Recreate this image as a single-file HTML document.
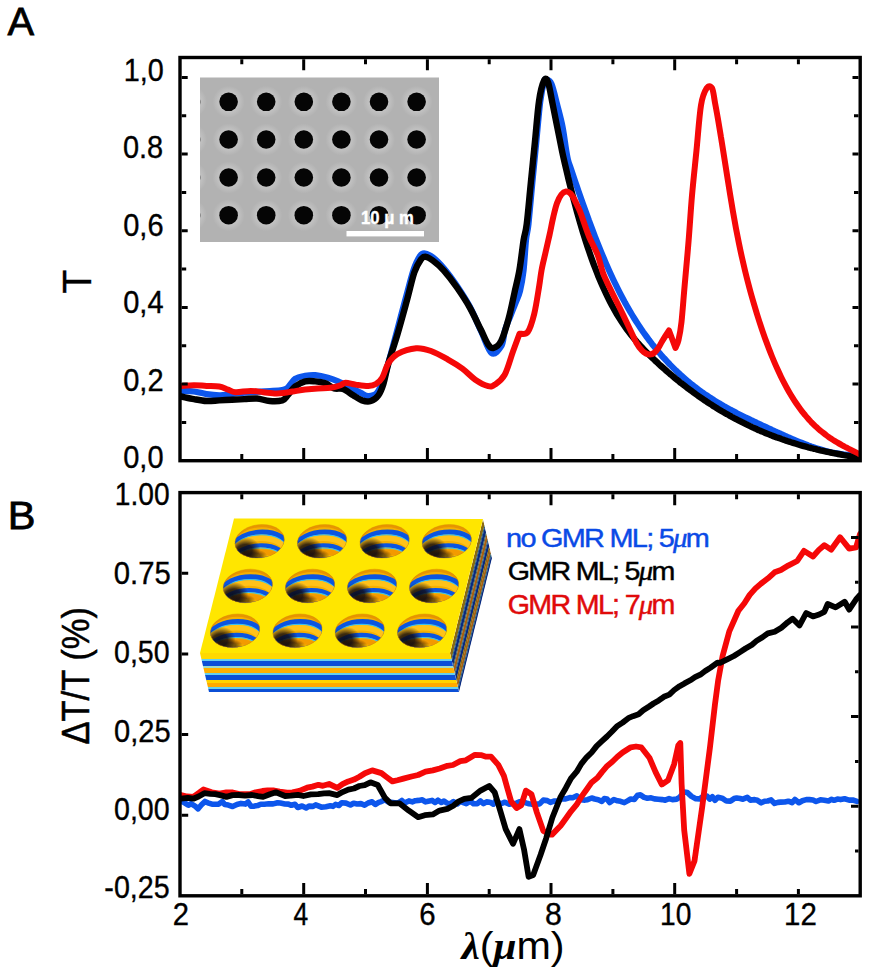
<!DOCTYPE html><html><head><meta charset="utf-8"><style>html,body{margin:0;padding:0;background:#fff;width:872px;height:974px;overflow:hidden}svg{display:block}text{font-family:"Liberation Sans",sans-serif}</style></head><body>
<svg width="872" height="974" viewBox="0 0 872 974">
<rect width="872" height="974" fill="#fff"/>
<defs>
<clipPath id="clipA"><rect x="180.0" y="57.5" width="680.2" height="403.2"/></clipPath>
<clipPath id="clipB"><rect x="180.0" y="492.6" width="680.2" height="403.2"/></clipPath>
</defs>
<g>
<defs><radialGradient id="halo" cx="0.5" cy="0.5" r="0.5"><stop offset="0.5" stop-color="#c6c6c6" stop-opacity="1"/><stop offset="1" stop-color="#c6c6c6" stop-opacity="0"/></radialGradient></defs>
<rect x="200" y="77.5" width="239" height="164.5" fill="#b2b2b2"/>
<clipPath id="semclip"><rect x="200" y="77.5" width="239" height="164.5"/></clipPath><g clip-path="url(#semclip)">
<circle cx="191.0" cy="101.8" r="16" fill="url(#halo)"/>
<circle cx="228.6" cy="101.8" r="16" fill="url(#halo)"/>
<circle cx="266.2" cy="101.8" r="16" fill="url(#halo)"/>
<circle cx="303.8" cy="101.8" r="16" fill="url(#halo)"/>
<circle cx="341.4" cy="101.8" r="16" fill="url(#halo)"/>
<circle cx="379.0" cy="101.8" r="16" fill="url(#halo)"/>
<circle cx="416.6" cy="101.8" r="16" fill="url(#halo)"/>
<circle cx="191.0" cy="139.5" r="16" fill="url(#halo)"/>
<circle cx="228.6" cy="139.5" r="16" fill="url(#halo)"/>
<circle cx="266.2" cy="139.5" r="16" fill="url(#halo)"/>
<circle cx="303.8" cy="139.5" r="16" fill="url(#halo)"/>
<circle cx="341.4" cy="139.5" r="16" fill="url(#halo)"/>
<circle cx="379.0" cy="139.5" r="16" fill="url(#halo)"/>
<circle cx="416.6" cy="139.5" r="16" fill="url(#halo)"/>
<circle cx="191.0" cy="177.5" r="16" fill="url(#halo)"/>
<circle cx="228.6" cy="177.5" r="16" fill="url(#halo)"/>
<circle cx="266.2" cy="177.5" r="16" fill="url(#halo)"/>
<circle cx="303.8" cy="177.5" r="16" fill="url(#halo)"/>
<circle cx="341.4" cy="177.5" r="16" fill="url(#halo)"/>
<circle cx="379.0" cy="177.5" r="16" fill="url(#halo)"/>
<circle cx="416.6" cy="177.5" r="16" fill="url(#halo)"/>
<circle cx="191.0" cy="215.2" r="16" fill="url(#halo)"/>
<circle cx="228.6" cy="215.2" r="16" fill="url(#halo)"/>
<circle cx="266.2" cy="215.2" r="16" fill="url(#halo)"/>
<circle cx="303.8" cy="215.2" r="16" fill="url(#halo)"/>
<circle cx="341.4" cy="215.2" r="16" fill="url(#halo)"/>
<circle cx="379.0" cy="215.2" r="16" fill="url(#halo)"/>
<circle cx="416.6" cy="215.2" r="16" fill="url(#halo)"/>
<circle cx="191.0" cy="101.8" r="9.3" fill="#050505"/>
<circle cx="228.6" cy="101.8" r="9.3" fill="#050505"/>
<circle cx="266.2" cy="101.8" r="9.3" fill="#050505"/>
<circle cx="303.8" cy="101.8" r="9.3" fill="#050505"/>
<circle cx="341.4" cy="101.8" r="9.3" fill="#050505"/>
<circle cx="379.0" cy="101.8" r="9.3" fill="#050505"/>
<circle cx="416.6" cy="101.8" r="9.3" fill="#050505"/>
<circle cx="191.0" cy="139.5" r="9.3" fill="#050505"/>
<circle cx="228.6" cy="139.5" r="9.3" fill="#050505"/>
<circle cx="266.2" cy="139.5" r="9.3" fill="#050505"/>
<circle cx="303.8" cy="139.5" r="9.3" fill="#050505"/>
<circle cx="341.4" cy="139.5" r="9.3" fill="#050505"/>
<circle cx="379.0" cy="139.5" r="9.3" fill="#050505"/>
<circle cx="416.6" cy="139.5" r="9.3" fill="#050505"/>
<circle cx="191.0" cy="177.5" r="9.3" fill="#050505"/>
<circle cx="228.6" cy="177.5" r="9.3" fill="#050505"/>
<circle cx="266.2" cy="177.5" r="9.3" fill="#050505"/>
<circle cx="303.8" cy="177.5" r="9.3" fill="#050505"/>
<circle cx="341.4" cy="177.5" r="9.3" fill="#050505"/>
<circle cx="379.0" cy="177.5" r="9.3" fill="#050505"/>
<circle cx="416.6" cy="177.5" r="9.3" fill="#050505"/>
<circle cx="191.0" cy="215.2" r="9.3" fill="#050505"/>
<circle cx="228.6" cy="215.2" r="9.3" fill="#050505"/>
<circle cx="266.2" cy="215.2" r="9.3" fill="#050505"/>
<circle cx="303.8" cy="215.2" r="9.3" fill="#050505"/>
<circle cx="341.4" cy="215.2" r="9.3" fill="#050505"/>
<circle cx="379.0" cy="215.2" r="9.3" fill="#050505"/>
<circle cx="416.6" cy="215.2" r="9.3" fill="#050505"/>
</g>
<rect x="346.5" y="231" width="77.5" height="5.4" fill="#fff"/>
</g>
<g clip-path="url(#clipA)" fill="none" stroke-linejoin="round" stroke-linecap="round">
<path d="M181.0,390.9 C183.2,391.0 189.7,391.0 193.9,391.5 C198.2,392.0 202.3,393.5 206.5,394.1 C210.7,394.7 215.6,395.2 219.2,395.3 C222.8,395.4 224.5,395.1 228.0,394.7 C231.5,394.3 235.5,393.4 240.0,393.0 C244.5,392.6 250.0,392.3 255.0,392.0 C260.0,391.7 265.5,391.3 270.0,391.0 C274.5,390.7 279.1,390.5 282.0,390.0 C284.9,389.5 285.4,389.7 287.6,387.8 C289.8,385.9 292.2,380.9 295.1,378.9 C298.0,376.9 301.8,376.4 305.2,375.8 C308.6,375.2 311.5,374.8 315.3,375.1 C319.1,375.4 324.1,376.6 327.9,377.7 C331.7,378.8 334.2,379.7 338.0,381.4 C341.8,383.1 346.8,385.9 350.6,387.8 C354.4,389.7 357.8,391.4 360.7,392.8 C363.6,394.2 365.6,396.0 368.3,396.0 C371.0,396.0 374.4,396.1 377.1,392.8 C379.8,389.5 382.8,381.4 384.7,376.4 C386.6,371.3 386.4,370.1 388.5,362.5 C390.6,354.9 394.1,341.9 397.0,331.0 C399.9,320.1 403.2,307.2 406.0,297.0 C408.8,286.8 411.2,276.8 413.5,270.0 C415.8,263.2 418.1,258.8 420.0,256.0 C421.9,253.2 422.8,253.2 425.0,253.5 C427.2,253.8 429.8,255.0 433.0,257.5 C436.2,260.0 440.0,263.8 444.0,268.5 C448.0,273.2 452.7,279.6 457.0,286.0 C461.3,292.4 466.0,299.5 470.0,307.0 C474.0,314.5 477.4,323.3 481.0,331.0 C484.6,338.7 488.1,350.5 491.5,353.0 C494.9,355.5 499.1,349.8 501.4,346.0 C503.6,342.2 503.6,334.8 505.0,330.0 C506.4,325.2 508.2,321.5 510.0,317.0 C511.8,312.5 513.8,307.3 515.5,303.0 C517.2,298.7 518.7,296.3 520.0,291.0 C521.3,285.7 522.5,279.5 523.5,271.0 C524.5,262.5 525.2,247.8 526.0,240.0 C526.8,232.2 527.5,233.5 528.5,224.0 C529.5,214.5 531.0,196.7 532.3,183.0 C533.6,169.3 535.0,155.7 536.3,142.0 C537.6,128.3 539.0,111.0 540.3,101.0 C541.6,91.0 543.0,85.6 544.0,82.0 C545.0,78.4 545.0,79.2 546.2,79.5 C547.5,79.8 549.7,79.9 551.5,84.0 C553.3,88.1 555.2,96.9 557.0,104.0 C558.8,111.1 561.0,119.0 562.5,126.5 C564.0,134.0 565.1,143.5 566.0,149.1 C566.9,154.7 567.2,156.6 568.0,159.9 C568.8,163.3 570.0,166.0 571.0,169.0 C572.0,172.0 573.0,175.0 574.0,178.0 C575.0,180.9 576.0,183.9 577.0,186.8 C578.0,189.7 579.0,192.6 580.0,195.5 C581.0,198.3 582.0,201.2 583.0,204.0 C584.0,206.8 585.0,209.6 586.0,212.4 C587.0,215.2 588.0,217.9 589.0,220.6 C590.0,223.3 591.0,226.0 592.0,228.6 C593.0,231.3 594.0,233.9 595.0,236.5 C596.0,239.1 597.0,241.6 598.0,244.1 C599.0,246.6 600.0,249.1 601.0,251.6 C602.0,254.0 603.0,256.4 604.0,258.8 C605.0,261.1 606.0,263.5 607.0,265.7 C608.0,268.0 609.0,270.3 610.0,272.5 C611.0,274.7 612.0,276.8 613.0,279.0 C614.0,281.1 615.0,283.2 616.0,285.2 C617.0,287.3 618.0,289.3 619.0,291.2 C620.0,293.2 621.0,295.1 622.0,297.0 C623.0,298.9 624.0,300.7 625.0,302.6 C626.0,304.4 627.0,306.1 628.0,307.9 C629.0,309.6 630.0,311.4 631.0,313.0 C632.0,314.7 633.0,316.4 634.0,318.0 C635.0,319.6 636.0,321.2 637.0,322.7 C638.0,324.3 639.0,325.8 640.0,327.3 C641.0,328.8 642.0,330.2 643.0,331.7 C644.0,333.1 645.0,334.5 646.0,335.9 C647.0,337.3 648.0,338.6 649.0,340.0 C650.0,341.3 651.0,342.6 652.0,343.9 C653.0,345.1 654.0,346.4 655.0,347.6 C656.0,348.9 657.0,350.1 658.0,351.3 C659.0,352.5 660.0,353.6 661.0,354.8 C662.0,355.9 663.0,357.0 664.0,358.2 C665.0,359.3 666.0,360.4 667.0,361.4 C668.0,362.5 669.0,363.5 670.0,364.6 C671.0,365.6 672.0,366.6 673.0,367.6 C674.0,368.6 675.0,369.6 676.0,370.6 C677.0,371.5 678.0,372.5 679.0,373.4 C680.0,374.3 681.0,375.2 682.0,376.1 C683.0,377.0 684.0,377.9 685.0,378.8 C686.0,379.7 687.0,380.5 688.0,381.3 C689.0,382.2 690.0,383.0 691.0,383.8 C692.0,384.6 693.0,385.4 694.0,386.2 C695.0,387.0 696.0,387.7 697.0,388.5 C698.0,389.3 699.0,390.0 700.0,390.7 C701.0,391.5 702.0,392.2 703.0,392.9 C704.0,393.6 705.0,394.3 706.0,395.0 C707.0,395.6 708.0,396.3 709.0,397.0 C710.0,397.6 711.0,398.3 712.0,398.9 C713.0,399.6 714.0,400.2 715.0,400.8 C716.0,401.4 717.0,402.0 718.0,402.6 C719.0,403.2 720.0,403.8 721.0,404.4 C722.0,405.0 723.0,405.6 724.0,406.2 C725.0,406.7 726.0,407.3 727.0,407.8 C728.0,408.4 729.0,408.9 730.0,409.5 C731.0,410.0 732.0,410.6 733.0,411.1 C734.0,411.6 735.0,412.1 736.0,412.6 C737.0,413.2 738.0,413.7 739.0,414.2 C740.0,414.7 741.0,415.2 742.0,415.7 C743.0,416.2 744.0,416.7 745.0,417.2 C746.0,417.7 747.0,418.1 748.0,418.6 C749.0,419.1 750.0,419.6 751.0,420.1 C752.0,420.5 753.0,421.0 754.0,421.5 C755.0,422.0 756.0,422.4 757.0,422.9 C758.0,423.4 759.0,423.8 760.0,424.3 C761.0,424.8 762.0,425.2 763.0,425.7 C764.0,426.2 765.0,426.6 766.0,427.1 C767.0,427.6 768.0,428.0 769.0,428.5 C770.0,429.0 771.0,429.4 772.0,429.9 C773.0,430.4 774.0,430.8 775.0,431.3 C776.0,431.7 777.0,432.2 778.0,432.7 C779.0,433.1 780.0,433.6 781.0,434.0 C782.0,434.5 783.0,434.9 784.0,435.4 C785.0,435.8 786.0,436.3 787.0,436.7 C788.0,437.2 789.0,437.6 790.0,438.0 C791.0,438.5 792.0,438.9 793.0,439.3 C794.0,439.8 795.0,440.2 796.0,440.6 C797.0,441.0 798.0,441.4 799.0,441.8 C800.0,442.2 801.0,442.6 802.0,443.0 C803.0,443.4 804.0,443.8 805.0,444.2 C806.0,444.6 807.0,444.9 808.0,445.3 C809.0,445.7 810.0,446.0 811.0,446.4 C812.0,446.7 813.0,447.1 814.0,447.4 C815.0,447.8 816.0,448.1 817.0,448.4 C818.0,448.7 819.0,449.0 820.0,449.3 C821.0,449.6 822.0,449.9 823.0,450.2 C824.0,450.5 825.0,450.8 826.0,451.0 C827.0,451.3 828.0,451.5 829.0,451.8 C830.0,452.0 831.0,452.2 832.0,452.5 C833.0,452.7 834.0,452.9 835.0,453.1 C836.0,453.3 837.0,453.5 838.0,453.6 C839.0,453.8 840.0,454.0 841.0,454.1 C842.0,454.2 843.0,454.4 844.0,454.5 C845.0,454.6 846.0,454.7 847.0,454.8 C848.0,454.9 849.0,455.0 850.0,455.0 C851.0,455.1 852.0,455.2 853.0,455.2 C854.0,455.2 855.0,455.2 856.0,455.2 C857.0,455.2 858.5,455.2 859.0,455.2" stroke="#0d56ec" stroke-width="6.2"/>
<path d="M181.0,396.5 C183.2,396.9 189.7,398.4 193.9,399.1 C198.2,399.9 202.3,400.8 206.5,401.0 C210.7,401.2 215.0,400.6 219.2,400.4 C223.4,400.2 227.6,399.9 231.8,399.7 C236.0,399.5 240.2,399.3 244.4,399.1 C248.6,398.9 252.8,398.2 257.0,398.5 C261.2,398.8 265.4,400.7 269.6,401.0 C273.8,401.3 279.2,401.3 282.2,400.4 C285.2,399.4 285.5,397.6 287.6,395.3 C289.8,393.0 292.2,388.8 295.1,386.5 C298.0,384.2 301.8,382.2 305.2,381.4 C308.6,380.5 311.9,381.1 315.3,381.4 C318.7,381.7 322.2,382.1 325.4,383.3 C328.5,384.5 331.2,387.4 334.2,388.4 C337.1,389.3 339.9,387.9 343.1,389.0 C346.3,390.1 350.1,393.4 353.2,395.3 C356.3,397.2 359.1,399.4 362.0,400.4 C364.9,401.3 368.1,401.9 370.8,401.0 C373.5,400.1 376.3,398.1 378.4,395.3 C380.5,392.5 381.7,389.4 383.4,384.0 C385.1,378.6 386.1,371.4 388.5,363.0 C390.9,354.6 394.6,344.0 397.7,333.5 C400.8,323.0 404.2,310.4 407.0,300.2 C409.8,290.0 412.0,279.3 414.3,272.5 C416.6,265.7 419.0,262.2 420.8,259.6 C422.6,257.0 423.4,256.7 425.4,256.8 C427.4,256.9 429.7,258.2 432.8,260.5 C435.9,262.8 439.9,266.1 443.9,270.6 C447.9,275.1 452.5,281.1 456.8,287.3 C461.1,293.5 465.8,300.5 469.8,307.6 C473.8,314.7 477.8,323.6 480.9,329.8 C484.0,336.0 486.1,341.6 488.2,344.6 C490.3,347.6 491.3,348.6 493.5,348.0 C495.7,347.4 498.7,345.8 501.2,340.9 C503.7,336.0 506.4,326.8 508.6,318.7 C510.8,310.6 512.7,300.8 514.5,292.6 C516.3,284.4 518.0,278.4 519.5,269.6 C521.0,260.8 522.4,247.6 523.6,240.0 C524.8,232.4 525.5,233.7 526.7,224.2 C527.9,214.7 529.4,196.9 530.8,183.2 C532.2,169.5 533.5,155.8 534.9,142.1 C536.3,128.4 537.5,111.4 539.0,101.1 C540.5,90.8 542.6,83.6 544.1,80.5 C545.6,77.4 546.7,78.5 548.1,82.4 C549.5,86.3 551.1,96.6 552.6,103.9 C554.1,111.2 555.5,118.7 557.1,126.5 C558.7,134.3 560.7,144.6 562.0,150.9 C563.3,157.2 564.0,159.9 565.0,164.3 C566.0,168.6 567.0,172.9 568.0,177.1 C569.0,181.2 570.0,185.3 571.0,189.2 C572.0,193.2 573.0,197.0 574.0,200.8 C575.0,204.6 576.0,208.3 577.0,211.9 C578.0,215.5 579.0,219.0 580.0,222.4 C581.0,225.9 582.0,229.2 583.0,232.5 C584.0,235.7 585.0,238.9 586.0,242.0 C587.0,245.1 588.0,248.1 589.0,251.0 C590.0,254.0 591.0,256.8 592.0,259.6 C593.0,262.4 594.0,265.1 595.0,267.7 C596.0,270.3 597.0,272.9 598.0,275.4 C599.0,277.8 600.0,280.2 601.0,282.6 C602.0,284.9 603.0,287.1 604.0,289.3 C605.0,291.5 606.0,293.6 607.0,295.7 C608.0,297.8 609.0,299.8 610.0,301.7 C611.0,303.6 612.0,305.5 613.0,307.3 C614.0,309.2 615.0,310.9 616.0,312.6 C617.0,314.4 618.0,316.0 619.0,317.6 C620.0,319.2 621.0,320.8 622.0,322.3 C623.0,323.8 624.0,325.3 625.0,326.7 C626.0,328.2 627.0,329.5 628.0,330.9 C629.0,332.2 630.0,333.5 631.0,334.8 C632.0,336.1 633.0,337.3 634.0,338.5 C635.0,339.7 636.0,340.9 637.0,342.1 C638.0,343.2 639.0,344.3 640.0,345.4 C641.0,346.5 642.0,347.6 643.0,348.6 C644.0,349.7 645.0,350.7 646.0,351.7 C647.0,352.7 648.0,353.7 649.0,354.7 C650.0,355.7 651.0,356.7 652.0,357.6 C653.0,358.6 654.0,359.5 655.0,360.5 C656.0,361.4 657.0,362.3 658.0,363.2 C659.0,364.2 660.0,365.1 661.0,366.0 C662.0,366.9 663.0,367.8 664.0,368.7 C665.0,369.6 666.0,370.4 667.0,371.3 C668.0,372.2 669.0,373.0 670.0,373.9 C671.0,374.7 672.0,375.6 673.0,376.4 C674.0,377.3 675.0,378.1 676.0,378.9 C677.0,379.7 678.0,380.5 679.0,381.3 C680.0,382.2 681.0,383.0 682.0,383.7 C683.0,384.5 684.0,385.3 685.0,386.1 C686.0,386.9 687.0,387.6 688.0,388.4 C689.0,389.1 690.0,389.9 691.0,390.6 C692.0,391.4 693.0,392.1 694.0,392.8 C695.0,393.6 696.0,394.3 697.0,395.0 C698.0,395.7 699.0,396.4 700.0,397.1 C701.0,397.8 702.0,398.5 703.0,399.2 C704.0,399.9 705.0,400.5 706.0,401.2 C707.0,401.9 708.0,402.5 709.0,403.2 C710.0,403.8 711.0,404.5 712.0,405.1 C713.0,405.8 714.0,406.4 715.0,407.0 C716.0,407.6 717.0,408.3 718.0,408.9 C719.0,409.5 720.0,410.1 721.0,410.7 C722.0,411.3 723.0,411.9 724.0,412.4 C725.0,413.0 726.0,413.6 727.0,414.2 C728.0,414.7 729.0,415.3 730.0,415.9 C731.0,416.4 732.0,417.0 733.0,417.5 C734.0,418.1 735.0,418.6 736.0,419.1 C737.0,419.7 738.0,420.2 739.0,420.7 C740.0,421.2 741.0,421.7 742.0,422.2 C743.0,422.7 744.0,423.2 745.0,423.7 C746.0,424.2 747.0,424.7 748.0,425.2 C749.0,425.7 750.0,426.1 751.0,426.6 C752.0,427.1 753.0,427.5 754.0,428.0 C755.0,428.4 756.0,428.9 757.0,429.3 C758.0,429.8 759.0,430.2 760.0,430.6 C761.0,431.1 762.0,431.5 763.0,431.9 C764.0,432.3 765.0,432.8 766.0,433.2 C767.0,433.6 768.0,434.0 769.0,434.4 C770.0,434.8 771.0,435.2 772.0,435.6 C773.0,435.9 774.0,436.3 775.0,436.7 C776.0,437.1 777.0,437.5 778.0,437.8 C779.0,438.2 780.0,438.5 781.0,438.9 C782.0,439.3 783.0,439.6 784.0,439.9 C785.0,440.3 786.0,440.6 787.0,441.0 C788.0,441.3 789.0,441.6 790.0,441.9 C791.0,442.3 792.0,442.6 793.0,442.9 C794.0,443.2 795.0,443.5 796.0,443.8 C797.0,444.1 798.0,444.4 799.0,444.7 C800.0,445.0 801.0,445.3 802.0,445.6 C803.0,445.9 804.0,446.2 805.0,446.4 C806.0,446.7 807.0,447.0 808.0,447.3 C809.0,447.5 810.0,447.8 811.0,448.0 C812.0,448.3 813.0,448.6 814.0,448.8 C815.0,449.1 816.0,449.3 817.0,449.5 C818.0,449.8 819.0,450.0 820.0,450.3 C821.0,450.5 822.0,450.7 823.0,450.9 C824.0,451.2 825.0,451.4 826.0,451.6 C827.0,451.8 828.0,452.0 829.0,452.2 C830.0,452.4 831.0,452.6 832.0,452.8 C833.0,453.0 834.0,453.2 835.0,453.4 C836.0,453.6 837.0,453.8 838.0,454.0 C839.0,454.2 840.0,454.4 841.0,454.5 C842.0,454.7 843.0,454.9 844.0,455.1 C845.0,455.2 846.0,455.4 847.0,455.6 C848.0,455.7 849.0,455.9 850.0,456.1 C851.0,456.2 852.0,456.4 853.0,456.5 C854.0,456.7 855.0,456.8 856.0,457.0 C857.0,457.1 858.5,457.3 859.0,457.4" stroke="#000" stroke-width="6.4"/>
<path d="M181.0,385.9 C183.2,385.8 189.7,385.2 193.9,385.2 C198.2,385.2 202.3,385.7 206.5,385.9 C210.7,386.1 215.6,385.9 219.2,386.5 C222.8,387.1 225.3,388.7 228.0,389.6 C230.7,390.6 231.8,392.0 235.6,392.2 C239.4,392.4 246.1,390.9 250.7,390.9 C255.3,390.9 259.1,391.8 263.3,392.2 C267.5,392.6 272.3,393.3 275.9,393.4 C279.5,393.5 282.2,393.1 285.0,392.8 C287.8,392.5 289.2,392.0 292.6,391.5 C296.0,391.0 301.0,390.1 305.2,389.6 C309.4,389.1 313.6,388.7 317.8,388.4 C322.0,388.1 326.7,388.3 330.5,387.8 C334.3,387.3 338.1,386.1 340.6,385.2 C343.1,384.3 343.1,382.8 345.6,382.7 C348.1,382.6 351.9,384.1 355.7,384.6 C359.5,385.1 364.9,386.0 368.3,385.9 C371.7,385.8 373.6,385.4 375.9,384.0 C378.2,382.6 380.1,381.2 382.2,377.7 C384.3,374.2 385.9,367.0 388.5,363.0 C391.1,359.0 393.1,356.3 397.7,353.8 C402.3,351.3 410.6,348.7 416.2,348.2 C421.8,347.7 425.8,349.1 431.0,351.0 C436.2,352.9 442.4,356.4 447.6,359.3 C452.8,362.2 457.8,365.2 462.4,368.6 C467.0,372.0 471.0,376.8 475.3,379.7 C479.6,382.6 484.9,385.3 488.2,386.1 C491.5,386.9 492.2,386.4 495.0,384.5 C497.8,382.6 501.7,380.2 504.7,374.8 C507.7,369.4 510.4,358.7 512.9,351.8 C515.4,344.9 518.4,336.7 519.5,333.7 L519.5,333.7 C520.9,333.4 525.2,335.4 527.7,332.1 C530.2,328.8 532.3,321.7 534.2,314.0 C536.1,306.3 538.0,293.3 539.2,286.0 C540.4,278.7 540.6,275.4 541.6,270.0 C542.6,264.6 543.9,259.6 545.2,253.9 C546.5,248.2 548.0,241.7 549.4,235.5 C550.8,229.3 552.0,222.4 553.3,217.0 C554.6,211.6 555.6,206.8 557.0,203.1 C558.4,199.3 559.9,196.4 561.4,194.5 C562.9,192.6 564.5,191.7 566.0,191.5 C567.5,191.3 569.2,192.3 570.5,193.5 C571.8,194.7 572.6,196.2 573.9,198.5 C575.1,200.8 576.8,204.4 578.0,207.0 C579.2,209.6 579.2,209.1 581.0,214.0 C582.8,218.9 586.2,229.7 589.0,236.5 C591.8,243.3 595.3,248.8 597.7,255.0 C600.1,261.2 600.9,267.3 603.2,273.5 C605.6,279.7 608.8,285.8 611.8,292.0 C614.8,298.2 618.0,304.3 621.0,310.5 C624.0,316.7 627.2,323.6 629.8,329.0 C632.4,334.4 634.5,339.4 636.5,343.0 C638.5,346.6 640.4,348.8 642.0,350.5 C643.6,352.2 644.7,352.8 646.0,353.5 C647.3,354.2 648.7,354.6 650.0,354.5 C651.3,354.4 652.7,354.0 654.0,353.0 C655.3,352.0 656.7,350.4 658.0,348.5 C659.3,346.6 660.2,344.5 662.0,341.5 C663.8,338.5 667.8,332.3 669.0,330.5 L669.0,330.5 C670.1,333.4 674.4,345.1 675.5,348.0 L675.5,348.0 C676.0,346.7 677.5,344.3 678.5,340.0 C679.5,335.7 680.5,331.2 681.5,322.0 C682.5,312.8 683.5,298.4 684.7,284.9 C685.9,271.4 687.4,255.7 688.6,240.8 C689.8,225.9 690.7,210.7 692.0,195.6 C693.3,180.5 695.0,165.5 696.5,150.4 C698.0,135.3 699.3,115.6 701.0,105.2 C702.7,94.8 704.9,91.0 706.7,88.2 C708.5,85.4 710.6,85.7 712.0,88.1 C713.4,90.5 714.0,97.5 715.0,102.7 C716.0,107.9 717.0,113.5 718.0,119.2 C719.0,125.0 720.0,131.1 721.0,137.2 C722.0,143.3 723.0,149.7 724.0,156.0 C725.0,162.3 726.0,168.7 727.0,175.0 C728.0,181.4 729.0,187.7 730.0,193.8 C731.0,200.0 732.0,206.1 733.0,211.8 C734.0,217.6 735.0,223.1 736.0,228.5 C737.0,233.8 738.0,238.8 739.0,243.7 C740.0,248.6 741.0,253.3 742.0,257.7 C743.0,262.2 744.0,266.5 745.0,270.7 C746.0,274.8 747.0,278.8 748.0,282.6 C749.0,286.5 750.0,290.2 751.0,293.8 C752.0,297.4 753.0,300.8 754.0,304.2 C755.0,307.6 756.0,310.9 757.0,314.1 C758.0,317.3 759.0,320.5 760.0,323.5 C761.0,326.6 762.0,329.6 763.0,332.4 C764.0,335.3 765.0,338.2 766.0,340.9 C767.0,343.6 768.0,346.3 769.0,348.9 C770.0,351.5 771.0,354.0 772.0,356.5 C773.0,358.9 774.0,361.3 775.0,363.6 C776.0,365.9 777.0,368.1 778.0,370.3 C779.0,372.5 780.0,374.6 781.0,376.7 C782.0,378.7 783.0,380.7 784.0,382.6 C785.0,384.5 786.0,386.4 787.0,388.2 C788.0,390.0 789.0,391.8 790.0,393.5 C791.0,395.2 792.0,396.8 793.0,398.4 C794.0,400.0 795.0,401.5 796.0,403.0 C797.0,404.5 798.0,405.9 799.0,407.3 C800.0,408.7 801.0,410.0 802.0,411.3 C803.0,412.6 804.0,413.8 805.0,415.0 C806.0,416.3 807.0,417.4 808.0,418.5 C809.0,419.7 810.0,420.7 811.0,421.8 C812.0,422.8 813.0,423.8 814.0,424.8 C815.0,425.8 816.0,426.7 817.0,427.6 C818.0,428.6 819.0,429.4 820.0,430.3 C821.0,431.1 822.0,431.9 823.0,432.7 C824.0,433.5 825.0,434.3 826.0,435.0 C827.0,435.8 828.0,436.5 829.0,437.2 C830.0,437.9 831.0,438.5 832.0,439.2 C833.0,439.8 834.0,440.5 835.0,441.1 C836.0,441.7 837.0,442.3 838.0,442.9 C839.0,443.5 840.0,444.0 841.0,444.6 C842.0,445.2 843.0,445.7 844.0,446.2 C845.0,446.8 846.0,447.3 847.0,447.8 C848.0,448.4 849.0,448.9 850.0,449.4 C851.0,449.9 852.0,450.4 853.0,450.9 C854.0,451.4 855.0,451.9 856.0,452.4 C857.0,452.9 858.5,453.7 859.0,454.0" stroke="#f50808" stroke-width="6"/>
</g>
<clipPath id="frontclip"><path d="M200,653 L450,653 L459,692 L209,692 Z"/></clipPath><g clip-path="url(#frontclip)"><rect x="195" y="653.0" width="270" height="6.3" fill="#ffd900"/><rect x="195" y="659.0" width="270" height="2.3" fill="#66d0ee"/><rect x="195" y="661.0" width="270" height="5.3" fill="#0b4fd6"/><rect x="195" y="666.0" width="270" height="2.3" fill="#9fdcc8"/><rect x="195" y="668.0" width="270" height="5.3" fill="#ffb000"/><rect x="195" y="673.0" width="270" height="2.3" fill="#66d0ee"/><rect x="195" y="675.0" width="270" height="5.3" fill="#0b4fd6"/><rect x="195" y="680.0" width="270" height="3.3" fill="#ffd400"/><rect x="195" y="683.0" width="270" height="4.3" fill="#ffaa00"/><rect x="195" y="687.0" width="270" height="2.3" fill="#66d0ee"/><rect x="195" y="689.0" width="270" height="3.8" fill="#0b4fd6"/></g><clipPath id="sideclip"><path d="M483,519 L492,558 L459,692 L450,653 Z"/></clipPath><g clip-path="url(#sideclip)"><path d="M483.0,519.0 L484.5,525.3 L451.5,659.3 L450.0,653.0 Z" fill="#8a6a10"/><path d="M484.4,525.0 L484.9,527.3 L451.9,661.3 L451.4,659.0 Z" fill="#306878"/><path d="M484.8,527.0 L486.1,532.3 L453.1,666.3 L451.8,661.0 Z" fill="#082a80"/><path d="M486.0,532.0 L486.5,534.3 L453.5,668.3 L453.0,666.0 Z" fill="#406860"/><path d="M486.5,534.0 L487.7,539.3 L454.7,673.3 L453.5,668.0 Z" fill="#a86010"/><path d="M487.6,539.0 L488.1,541.3 L455.1,675.3 L454.6,673.0 Z" fill="#306878"/><path d="M488.1,541.0 L489.3,546.3 L456.3,680.3 L455.1,675.0 Z" fill="#082a80"/><path d="M489.2,546.0 L490.0,549.3 L457.0,683.3 L456.2,680.0 Z" fill="#8a6a10"/><path d="M489.9,549.0 L490.9,553.3 L457.9,687.3 L456.9,683.0 Z" fill="#a86010"/><path d="M490.8,553.0 L491.4,555.3 L458.4,689.3 L457.8,687.0 Z" fill="#306878"/><path d="M491.3,555.0 L492.2,558.8 L459.2,692.8 L458.3,689.0 Z" fill="#082a80"/></g><path d="M234,518.5 L483,519 L450,653 L200,653 Z" fill="#ffe600"/><defs><radialGradient id="holeshade" cx="0.5" cy="0.5" r="0.5"><stop offset="0" stop-color="#08060e" stop-opacity="1"/><stop offset="0.5" stop-color="#100a10" stop-opacity="0.9"/><stop offset="1" stop-color="#201000" stop-opacity="0"/></radialGradient><clipPath id="hclip"><ellipse cx="0" cy="0" rx="24.5" ry="16.8"/></clipPath></defs><g transform="translate(259.6,541.3) skewX(-9)"><g clip-path="url(#hclip)"><rect x="-26" y="-18" width="52" height="36" fill="#f6b000"/><ellipse cx="0" cy="1.2" rx="25" ry="16.5" fill="none" stroke="#e89400" stroke-width="2.4"/><ellipse cx="1" cy="4.7" rx="26" ry="14" fill="none" stroke="#0b55e0" stroke-width="5"/><ellipse cx="1" cy="7.6" rx="26" ry="14" fill="none" stroke="#38c0f0" stroke-width="1.3"/><ellipse cx="1" cy="11" rx="26" ry="14" fill="none" stroke="#ffc21a" stroke-width="5.5"/><ellipse cx="2" cy="18.1" rx="26" ry="14" fill="none" stroke="#0b55e0" stroke-width="4.2"/><ellipse cx="2" cy="20.6" rx="26" ry="14" fill="none" stroke="#38c0f0" stroke-width="1.0"/><ellipse cx="2" cy="24.5" rx="26" ry="14" fill="none" stroke="#f39a00" stroke-width="5"/><ellipse cx="-14" cy="10" rx="16" ry="14" fill="url(#holeshade)" opacity="0.9"/><ellipse cx="-4" cy="15" rx="14" ry="7" fill="url(#holeshade)" opacity="0.6"/></g><ellipse cx="0" cy="0" rx="24.5" ry="16.8" fill="none" stroke="#d08a00" stroke-width="0.8" opacity="0.5"/></g><g transform="translate(322.0,541.3) skewX(-9)"><g clip-path="url(#hclip)"><rect x="-26" y="-18" width="52" height="36" fill="#f6b000"/><ellipse cx="0" cy="1.2" rx="25" ry="16.5" fill="none" stroke="#e89400" stroke-width="2.4"/><ellipse cx="1" cy="4.7" rx="26" ry="14" fill="none" stroke="#0b55e0" stroke-width="5"/><ellipse cx="1" cy="7.6" rx="26" ry="14" fill="none" stroke="#38c0f0" stroke-width="1.3"/><ellipse cx="1" cy="11" rx="26" ry="14" fill="none" stroke="#ffc21a" stroke-width="5.5"/><ellipse cx="2" cy="18.1" rx="26" ry="14" fill="none" stroke="#0b55e0" stroke-width="4.2"/><ellipse cx="2" cy="20.6" rx="26" ry="14" fill="none" stroke="#38c0f0" stroke-width="1.0"/><ellipse cx="2" cy="24.5" rx="26" ry="14" fill="none" stroke="#f39a00" stroke-width="5"/><ellipse cx="-14" cy="10" rx="16" ry="14" fill="url(#holeshade)" opacity="0.9"/><ellipse cx="-4" cy="15" rx="14" ry="7" fill="url(#holeshade)" opacity="0.6"/></g><ellipse cx="0" cy="0" rx="24.5" ry="16.8" fill="none" stroke="#d08a00" stroke-width="0.8" opacity="0.5"/></g><g transform="translate(384.6,541.3) skewX(-9)"><g clip-path="url(#hclip)"><rect x="-26" y="-18" width="52" height="36" fill="#f6b000"/><ellipse cx="0" cy="1.2" rx="25" ry="16.5" fill="none" stroke="#e89400" stroke-width="2.4"/><ellipse cx="1" cy="4.7" rx="26" ry="14" fill="none" stroke="#0b55e0" stroke-width="5"/><ellipse cx="1" cy="7.6" rx="26" ry="14" fill="none" stroke="#38c0f0" stroke-width="1.3"/><ellipse cx="1" cy="11" rx="26" ry="14" fill="none" stroke="#ffc21a" stroke-width="5.5"/><ellipse cx="2" cy="18.1" rx="26" ry="14" fill="none" stroke="#0b55e0" stroke-width="4.2"/><ellipse cx="2" cy="20.6" rx="26" ry="14" fill="none" stroke="#38c0f0" stroke-width="1.0"/><ellipse cx="2" cy="24.5" rx="26" ry="14" fill="none" stroke="#f39a00" stroke-width="5"/><ellipse cx="-14" cy="10" rx="16" ry="14" fill="url(#holeshade)" opacity="0.9"/><ellipse cx="-4" cy="15" rx="14" ry="7" fill="url(#holeshade)" opacity="0.6"/></g><ellipse cx="0" cy="0" rx="24.5" ry="16.8" fill="none" stroke="#d08a00" stroke-width="0.8" opacity="0.5"/></g><g transform="translate(446.8,541.3) skewX(-9)"><g clip-path="url(#hclip)"><rect x="-26" y="-18" width="52" height="36" fill="#f6b000"/><ellipse cx="0" cy="1.2" rx="25" ry="16.5" fill="none" stroke="#e89400" stroke-width="2.4"/><ellipse cx="1" cy="4.7" rx="26" ry="14" fill="none" stroke="#0b55e0" stroke-width="5"/><ellipse cx="1" cy="7.6" rx="26" ry="14" fill="none" stroke="#38c0f0" stroke-width="1.3"/><ellipse cx="1" cy="11" rx="26" ry="14" fill="none" stroke="#ffc21a" stroke-width="5.5"/><ellipse cx="2" cy="18.1" rx="26" ry="14" fill="none" stroke="#0b55e0" stroke-width="4.2"/><ellipse cx="2" cy="20.6" rx="26" ry="14" fill="none" stroke="#38c0f0" stroke-width="1.0"/><ellipse cx="2" cy="24.5" rx="26" ry="14" fill="none" stroke="#f39a00" stroke-width="5"/><ellipse cx="-14" cy="10" rx="16" ry="14" fill="url(#holeshade)" opacity="0.9"/><ellipse cx="-4" cy="15" rx="14" ry="7" fill="url(#holeshade)" opacity="0.6"/></g><ellipse cx="0" cy="0" rx="24.5" ry="16.8" fill="none" stroke="#d08a00" stroke-width="0.8" opacity="0.5"/></g><g transform="translate(247.8,586.0) skewX(-9)"><g clip-path="url(#hclip)"><rect x="-26" y="-18" width="52" height="36" fill="#f6b000"/><ellipse cx="0" cy="1.2" rx="25" ry="16.5" fill="none" stroke="#e89400" stroke-width="2.4"/><ellipse cx="1" cy="4.7" rx="26" ry="14" fill="none" stroke="#0b55e0" stroke-width="5"/><ellipse cx="1" cy="7.6" rx="26" ry="14" fill="none" stroke="#38c0f0" stroke-width="1.3"/><ellipse cx="1" cy="11" rx="26" ry="14" fill="none" stroke="#ffc21a" stroke-width="5.5"/><ellipse cx="2" cy="18.1" rx="26" ry="14" fill="none" stroke="#0b55e0" stroke-width="4.2"/><ellipse cx="2" cy="20.6" rx="26" ry="14" fill="none" stroke="#38c0f0" stroke-width="1.0"/><ellipse cx="2" cy="24.5" rx="26" ry="14" fill="none" stroke="#f39a00" stroke-width="5"/><ellipse cx="-14" cy="10" rx="16" ry="14" fill="url(#holeshade)" opacity="0.9"/><ellipse cx="-4" cy="15" rx="14" ry="7" fill="url(#holeshade)" opacity="0.6"/></g><ellipse cx="0" cy="0" rx="24.5" ry="16.8" fill="none" stroke="#d08a00" stroke-width="0.8" opacity="0.5"/></g><g transform="translate(310.0,586.0) skewX(-9)"><g clip-path="url(#hclip)"><rect x="-26" y="-18" width="52" height="36" fill="#f6b000"/><ellipse cx="0" cy="1.2" rx="25" ry="16.5" fill="none" stroke="#e89400" stroke-width="2.4"/><ellipse cx="1" cy="4.7" rx="26" ry="14" fill="none" stroke="#0b55e0" stroke-width="5"/><ellipse cx="1" cy="7.6" rx="26" ry="14" fill="none" stroke="#38c0f0" stroke-width="1.3"/><ellipse cx="1" cy="11" rx="26" ry="14" fill="none" stroke="#ffc21a" stroke-width="5.5"/><ellipse cx="2" cy="18.1" rx="26" ry="14" fill="none" stroke="#0b55e0" stroke-width="4.2"/><ellipse cx="2" cy="20.6" rx="26" ry="14" fill="none" stroke="#38c0f0" stroke-width="1.0"/><ellipse cx="2" cy="24.5" rx="26" ry="14" fill="none" stroke="#f39a00" stroke-width="5"/><ellipse cx="-14" cy="10" rx="16" ry="14" fill="url(#holeshade)" opacity="0.9"/><ellipse cx="-4" cy="15" rx="14" ry="7" fill="url(#holeshade)" opacity="0.6"/></g><ellipse cx="0" cy="0" rx="24.5" ry="16.8" fill="none" stroke="#d08a00" stroke-width="0.8" opacity="0.5"/></g><g transform="translate(372.0,586.0) skewX(-9)"><g clip-path="url(#hclip)"><rect x="-26" y="-18" width="52" height="36" fill="#f6b000"/><ellipse cx="0" cy="1.2" rx="25" ry="16.5" fill="none" stroke="#e89400" stroke-width="2.4"/><ellipse cx="1" cy="4.7" rx="26" ry="14" fill="none" stroke="#0b55e0" stroke-width="5"/><ellipse cx="1" cy="7.6" rx="26" ry="14" fill="none" stroke="#38c0f0" stroke-width="1.3"/><ellipse cx="1" cy="11" rx="26" ry="14" fill="none" stroke="#ffc21a" stroke-width="5.5"/><ellipse cx="2" cy="18.1" rx="26" ry="14" fill="none" stroke="#0b55e0" stroke-width="4.2"/><ellipse cx="2" cy="20.6" rx="26" ry="14" fill="none" stroke="#38c0f0" stroke-width="1.0"/><ellipse cx="2" cy="24.5" rx="26" ry="14" fill="none" stroke="#f39a00" stroke-width="5"/><ellipse cx="-14" cy="10" rx="16" ry="14" fill="url(#holeshade)" opacity="0.9"/><ellipse cx="-4" cy="15" rx="14" ry="7" fill="url(#holeshade)" opacity="0.6"/></g><ellipse cx="0" cy="0" rx="24.5" ry="16.8" fill="none" stroke="#d08a00" stroke-width="0.8" opacity="0.5"/></g><g transform="translate(434.0,586.0) skewX(-9)"><g clip-path="url(#hclip)"><rect x="-26" y="-18" width="52" height="36" fill="#f6b000"/><ellipse cx="0" cy="1.2" rx="25" ry="16.5" fill="none" stroke="#e89400" stroke-width="2.4"/><ellipse cx="1" cy="4.7" rx="26" ry="14" fill="none" stroke="#0b55e0" stroke-width="5"/><ellipse cx="1" cy="7.6" rx="26" ry="14" fill="none" stroke="#38c0f0" stroke-width="1.3"/><ellipse cx="1" cy="11" rx="26" ry="14" fill="none" stroke="#ffc21a" stroke-width="5.5"/><ellipse cx="2" cy="18.1" rx="26" ry="14" fill="none" stroke="#0b55e0" stroke-width="4.2"/><ellipse cx="2" cy="20.6" rx="26" ry="14" fill="none" stroke="#38c0f0" stroke-width="1.0"/><ellipse cx="2" cy="24.5" rx="26" ry="14" fill="none" stroke="#f39a00" stroke-width="5"/><ellipse cx="-14" cy="10" rx="16" ry="14" fill="url(#holeshade)" opacity="0.9"/><ellipse cx="-4" cy="15" rx="14" ry="7" fill="url(#holeshade)" opacity="0.6"/></g><ellipse cx="0" cy="0" rx="24.5" ry="16.8" fill="none" stroke="#d08a00" stroke-width="0.8" opacity="0.5"/></g><g transform="translate(235.0,630.8) skewX(-9)"><g clip-path="url(#hclip)"><rect x="-26" y="-18" width="52" height="36" fill="#f6b000"/><ellipse cx="0" cy="1.2" rx="25" ry="16.5" fill="none" stroke="#e89400" stroke-width="2.4"/><ellipse cx="1" cy="4.7" rx="26" ry="14" fill="none" stroke="#0b55e0" stroke-width="5"/><ellipse cx="1" cy="7.6" rx="26" ry="14" fill="none" stroke="#38c0f0" stroke-width="1.3"/><ellipse cx="1" cy="11" rx="26" ry="14" fill="none" stroke="#ffc21a" stroke-width="5.5"/><ellipse cx="2" cy="18.1" rx="26" ry="14" fill="none" stroke="#0b55e0" stroke-width="4.2"/><ellipse cx="2" cy="20.6" rx="26" ry="14" fill="none" stroke="#38c0f0" stroke-width="1.0"/><ellipse cx="2" cy="24.5" rx="26" ry="14" fill="none" stroke="#f39a00" stroke-width="5"/><ellipse cx="-14" cy="10" rx="16" ry="14" fill="url(#holeshade)" opacity="0.9"/><ellipse cx="-4" cy="15" rx="14" ry="7" fill="url(#holeshade)" opacity="0.6"/></g><ellipse cx="0" cy="0" rx="24.5" ry="16.8" fill="none" stroke="#d08a00" stroke-width="0.8" opacity="0.5"/></g><g transform="translate(297.5,630.8) skewX(-9)"><g clip-path="url(#hclip)"><rect x="-26" y="-18" width="52" height="36" fill="#f6b000"/><ellipse cx="0" cy="1.2" rx="25" ry="16.5" fill="none" stroke="#e89400" stroke-width="2.4"/><ellipse cx="1" cy="4.7" rx="26" ry="14" fill="none" stroke="#0b55e0" stroke-width="5"/><ellipse cx="1" cy="7.6" rx="26" ry="14" fill="none" stroke="#38c0f0" stroke-width="1.3"/><ellipse cx="1" cy="11" rx="26" ry="14" fill="none" stroke="#ffc21a" stroke-width="5.5"/><ellipse cx="2" cy="18.1" rx="26" ry="14" fill="none" stroke="#0b55e0" stroke-width="4.2"/><ellipse cx="2" cy="20.6" rx="26" ry="14" fill="none" stroke="#38c0f0" stroke-width="1.0"/><ellipse cx="2" cy="24.5" rx="26" ry="14" fill="none" stroke="#f39a00" stroke-width="5"/><ellipse cx="-14" cy="10" rx="16" ry="14" fill="url(#holeshade)" opacity="0.9"/><ellipse cx="-4" cy="15" rx="14" ry="7" fill="url(#holeshade)" opacity="0.6"/></g><ellipse cx="0" cy="0" rx="24.5" ry="16.8" fill="none" stroke="#d08a00" stroke-width="0.8" opacity="0.5"/></g><g transform="translate(359.7,630.8) skewX(-9)"><g clip-path="url(#hclip)"><rect x="-26" y="-18" width="52" height="36" fill="#f6b000"/><ellipse cx="0" cy="1.2" rx="25" ry="16.5" fill="none" stroke="#e89400" stroke-width="2.4"/><ellipse cx="1" cy="4.7" rx="26" ry="14" fill="none" stroke="#0b55e0" stroke-width="5"/><ellipse cx="1" cy="7.6" rx="26" ry="14" fill="none" stroke="#38c0f0" stroke-width="1.3"/><ellipse cx="1" cy="11" rx="26" ry="14" fill="none" stroke="#ffc21a" stroke-width="5.5"/><ellipse cx="2" cy="18.1" rx="26" ry="14" fill="none" stroke="#0b55e0" stroke-width="4.2"/><ellipse cx="2" cy="20.6" rx="26" ry="14" fill="none" stroke="#38c0f0" stroke-width="1.0"/><ellipse cx="2" cy="24.5" rx="26" ry="14" fill="none" stroke="#f39a00" stroke-width="5"/><ellipse cx="-14" cy="10" rx="16" ry="14" fill="url(#holeshade)" opacity="0.9"/><ellipse cx="-4" cy="15" rx="14" ry="7" fill="url(#holeshade)" opacity="0.6"/></g><ellipse cx="0" cy="0" rx="24.5" ry="16.8" fill="none" stroke="#d08a00" stroke-width="0.8" opacity="0.5"/></g><g transform="translate(422.0,630.8) skewX(-9)"><g clip-path="url(#hclip)"><rect x="-26" y="-18" width="52" height="36" fill="#f6b000"/><ellipse cx="0" cy="1.2" rx="25" ry="16.5" fill="none" stroke="#e89400" stroke-width="2.4"/><ellipse cx="1" cy="4.7" rx="26" ry="14" fill="none" stroke="#0b55e0" stroke-width="5"/><ellipse cx="1" cy="7.6" rx="26" ry="14" fill="none" stroke="#38c0f0" stroke-width="1.3"/><ellipse cx="1" cy="11" rx="26" ry="14" fill="none" stroke="#ffc21a" stroke-width="5.5"/><ellipse cx="2" cy="18.1" rx="26" ry="14" fill="none" stroke="#0b55e0" stroke-width="4.2"/><ellipse cx="2" cy="20.6" rx="26" ry="14" fill="none" stroke="#38c0f0" stroke-width="1.0"/><ellipse cx="2" cy="24.5" rx="26" ry="14" fill="none" stroke="#f39a00" stroke-width="5"/><ellipse cx="-14" cy="10" rx="16" ry="14" fill="url(#holeshade)" opacity="0.9"/><ellipse cx="-4" cy="15" rx="14" ry="7" fill="url(#holeshade)" opacity="0.6"/></g><ellipse cx="0" cy="0" rx="24.5" ry="16.8" fill="none" stroke="#d08a00" stroke-width="0.8" opacity="0.5"/></g>
<g clip-path="url(#clipB)" fill="none" stroke-linejoin="round" stroke-linecap="round">
<path d="M181.0,801.0 L184.6,802.8 L188.3,805.2 L190.9,803.7 L195.1,806.2 L198.1,808.8 L201.5,804.8 L205.0,801.4 L207.8,802.8 L212.0,804.2 L216.0,804.2 L218.6,804.1 L222.3,801.7 L224.9,804.6 L228.3,805.1 L232.6,806.5 L236.9,804.5 L241.0,803.4 L245.4,804.1 L248.1,802.0 L251.0,806.3 L254.4,806.1 L257.5,805.6 L260.7,804.2 L264.4,804.2 L268.7,803.8 L273.1,803.9 L277.6,802.7 L280.4,803.1 L284.8,804.0 L288.5,804.1 L291.4,805.3 L295.0,804.3 L297.7,807.5 L302.1,806.0 L306.2,808.0 L309.0,806.1 L313.1,806.4 L315.7,804.9 L318.3,805.9 L321.4,807.2 L325.9,806.7 L330.4,805.7 L333.0,806.4 L335.6,804.4 L338.9,805.5 L341.7,802.7 L346.0,803.1 L350.4,805.0 L353.6,803.2 L357.2,804.0 L360.9,803.6 L364.6,805.2 L368.1,803.0 L372.1,801.8 L375.2,804.5 L378.7,802.4 L381.2,801.6 L384.9,799.7 L388.6,802.3 L391.2,802.4 L394.7,802.8 L397.9,803.1 L401.8,800.5 L404.5,803.1 L408.9,800.9 L412.3,801.9 L415.4,800.7 L418.6,800.4 L422.3,799.8 L425.5,801.9 L428.1,801.2 L432.0,800.4 L435.0,802.5 L438.0,800.2 L441.3,802.5 L444.0,801.1 L447.2,803.3 L450.6,803.5 L453.4,801.6 L457.2,804.0 L460.6,801.4 L463.4,802.6 L466.3,803.7 L470.4,801.2 L473.5,803.7 L477.3,803.7 L480.5,801.0 L483.5,803.7 L486.6,801.9 L489.9,802.2 L493.2,804.2 L496.0,800.5 L500.4,804.0 L504.9,802.2 L509.3,804.2 L512.3,803.5 L516.4,803.2 L520.0,801.7 L523.1,801.4 L525.8,802.9 L528.9,803.7 L531.4,804.1 L535.3,804.2 L539.6,803.9 L543.3,800.1 L547.3,800.6 L550.4,802.4 L553.9,801.1 L558.3,801.0 L561.5,798.9 L565.7,798.9 L569.8,797.6 L572.7,797.7 L576.8,795.9 L580.9,799.7 L585.0,800.1 L587.5,799.7 L591.7,798.0 L594.8,799.0 L598.3,799.8 L601.8,801.4 L604.3,798.6 L607.0,799.0 L609.7,802.6 L613.9,799.5 L617.4,800.8 L620.5,801.3 L624.3,802.6 L627.5,800.9 L630.7,799.0 L634.3,799.5 L637.6,795.2 L640.4,794.9 L644.1,797.4 L647.4,798.3 L651.1,797.8 L654.4,798.9 L658.3,799.2 L662.2,799.6 L665.2,800.2 L669.1,798.6 L672.4,799.6 L676.7,799.1 L679.9,797.0 L684.0,792.0 L687.4,792.6 L691.5,796.4 L695.8,798.7 L699.7,798.9 L703.3,796.4 L707.0,796.0 L709.7,799.1 L712.3,796.7 L715.0,800.2 L717.9,797.2 L722.1,798.2 L726.3,801.0 L730.4,801.1 L734.1,798.6 L736.7,798.0 L740.2,798.5 L742.9,799.2 L747.3,797.4 L750.4,800.1 L754.6,799.6 L757.4,800.3 L761.2,802.8 L764.5,801.2 L767.7,801.0 L771.1,799.9 L774.6,803.4 L777.9,802.4 L780.7,802.1 L784.7,802.0 L788.3,801.2 L792.1,802.7 L794.9,799.5 L798.9,802.7 L802.4,800.7 L806.3,799.6 L809.4,799.6 L813.0,800.0 L816.0,801.5 L820.4,799.8 L824.3,800.2 L828.5,800.9 L831.6,799.3 L834.1,800.3 L837.4,799.1 L840.6,799.6 L844.6,798.8 L849.1,800.1 L852.8,800.0 L857.0,801.3" stroke="#0d56ec" stroke-width="5.6"/>
<path d="M181.0,795.0 L187.1,796.5 L193.3,796.9 L198.9,792.9 L203.4,789.5 L211.7,792.3 L219.4,793.5 L226.4,792.3 L232.7,792.5 L239.2,794.1 L244.3,794.1 L250.5,794.1 L255.7,792.3 L262.4,791.0 L267.5,790.5 L274.1,790.5 L279.7,791.6 L286.9,792.7 L292.4,792.3 L299.4,790.9 L307.1,787.7 L312.3,786.6 L318.5,784.8 L322.9,785.8 L329.1,784.0 L337.3,787.8 L342.5,784.2 L348.3,781.4 L354.0,779.6 L359.4,776.8 L365.0,773.2 L372.2,770.4 L381.4,773.1 L386.8,777.2 L392.4,781.4 L397.4,780.2 L403.4,778.6 L411.5,776.5 L418.1,775.0 L425.5,771.7 L432.8,770.4 L439.7,768.5 L447.4,765.8 L452.9,765.0 L460.3,761.1 L465.8,760.3 L475.0,754.8 L481.0,755.1 L486.1,756.7 L491.0,756.6 L498.3,764.9 L503.9,775.9 L507.5,788.7 L511.2,801.6 L516.7,808.0 L521.3,805.2 L525.9,790.6 L531.4,794.2 L536.9,812.6 L543.3,830.9 L550.6,834.6 L552.0,834.6 L560.6,825.8 L565.5,819.0 L571.0,811.3 L576.4,804.9 L581.3,796.9 L586.1,790.3 L591.6,782.4 L597.5,777.7 L601.9,772.1 L607.2,765.9 L612.3,761.8 L617.4,756.8 L622.6,752.5 L630.8,747.3 L636.0,746.5 L641.2,747.3 L649.4,757.7 L655.6,772.1 L661.8,784.5 L668.0,780.4 L674.2,763.9 L678.3,745.3 L680.3,743.0 L681.6,783.8 L684.2,830.1 L689.4,873.8 L694.5,860.9 L702.2,807.0 L709.9,747.9 L715.0,704.2 L718.1,680.8 L722.6,656.0 L729.4,631.1 L738.4,610.8 L744.4,603.3 L749.7,594.9 L755.5,588.4 L761.0,583.6 L768.0,578.3 L774.6,572.3 L780.9,570.0 L788.2,565.6 L797.2,561.0 L804.0,550.9 L813.0,556.5 L818.9,549.9 L824.3,545.2 L831.1,549.7 L840.1,537.3 L849.2,548.6 L856.0,547.5 L860.0,534.0" stroke="#f50808" stroke-width="5.8"/>
<path d="M181.0,798.7 L187.8,797.8 L193.3,798.7 L198.6,796.5 L204.4,793.2 L210.1,793.8 L215.4,794.1 L221.1,795.4 L226.4,796.9 L232.5,795.1 L239.2,795.0 L245.0,795.6 L252.1,795.0 L258.0,796.1 L263.1,796.9 L269.9,794.2 L275.9,792.3 L285.1,796.0 L290.8,795.7 L297.9,794.8 L303.4,796.0 L310.8,794.4 L318.1,794.1 L324.0,793.3 L329.1,793.2 L337.3,795.1 L342.5,792.1 L348.3,789.6 L353.9,788.5 L359.4,786.0 L364.7,785.1 L370.4,782.3 L377.7,785.0 L385.0,797.9 L390.6,803.4 L399.7,803.4 L408.9,810.7 L418.1,817.2 L424.8,815.2 L432.8,814.4 L439.5,810.6 L447.4,808.9 L453.3,805.8 L458.4,801.6 L464.3,798.9 L471.3,797.9 L480.5,790.6 L489.2,786.0 L494.7,792.4 L500.2,810.7 L505.7,829.1 L513.0,843.8 L519.4,829.1 L524.0,849.3 L528.6,876.8 L533.2,875.0 L540.6,854.8 L546.2,838.2 L552.4,817.5 L560.6,796.9 L565.7,788.2 L571.0,778.3 L576.7,771.7 L581.3,763.9 L586.6,757.3 L591.6,752.5 L596.6,746.1 L601.9,741.2 L607.0,736.5 L612.0,731.5 L616.8,726.4 L622.6,722.6 L628.3,718.2 L633.0,716.2 L638.6,714.2 L643.2,710.2 L649.1,706.5 L653.5,703.5 L658.8,700.4 L663.9,696.8 L669.3,694.6 L674.2,690.0 L679.6,686.2 L684.5,683.4 L690.3,680.3 L695.0,677.2 L700.3,674.7 L705.2,671.0 L710.6,667.6 L717.5,662.7 L720.0,662.9 L727.2,659.4 L733.9,656.0 L740.0,652.1 L745.5,648.5 L752.0,644.7 L756.5,640.9 L762.8,637.0 L767.8,633.4 L774.7,631.7 L781.4,627.7 L787.7,622.3 L792.7,618.7 L799.5,625.5 L806.2,613.0 L813.0,616.4 L819.1,614.5 L824.3,611.9 L827.7,604.0 L835.6,607.4 L844.7,601.7 L849.2,609.6 L856.0,599.5 L860.0,595.0" stroke="#000" stroke-width="5.8"/>
</g>
<rect x="180.0" y="57.5" width="680.2" height="403.2" fill="none" stroke="#000" stroke-width="3.4"/>
<rect x="180.0" y="492.6" width="680.2" height="403.2" fill="none" stroke="#000" stroke-width="3.4"/>
<path d="M241.8,459.1 L241.8,454.1 M241.8,59.2 L241.8,64.2 M303.7,459.1 L303.7,448.1 M303.7,59.2 L303.7,70.2 M365.5,459.1 L365.5,454.1 M365.5,59.2 L365.5,64.2 M427.4,459.1 L427.4,448.1 M427.4,59.2 L427.4,70.2 M489.2,459.1 L489.2,454.1 M489.2,59.2 L489.2,64.2 M551.0,459.1 L551.0,448.1 M551.0,59.2 L551.0,70.2 M612.9,459.1 L612.9,454.1 M612.9,59.2 L612.9,64.2 M674.7,459.1 L674.7,448.1 M674.7,59.2 L674.7,70.2 M736.6,459.1 L736.6,454.1 M736.6,59.2 L736.6,64.2 M798.4,459.1 L798.4,454.1 M798.4,59.2 L798.4,64.2 M241.8,894.1 L241.8,889.1 M241.8,494.3 L241.8,499.3 M303.7,894.1 L303.7,883.1 M303.7,494.3 L303.7,505.3 M365.5,894.1 L365.5,889.1 M365.5,494.3 L365.5,499.3 M427.4,894.1 L427.4,883.1 M427.4,494.3 L427.4,505.3 M489.2,894.1 L489.2,889.1 M489.2,494.3 L489.2,499.3 M551.0,894.1 L551.0,883.1 M551.0,494.3 L551.0,505.3 M612.9,894.1 L612.9,889.1 M612.9,494.3 L612.9,499.3 M674.7,894.1 L674.7,883.1 M674.7,494.3 L674.7,505.3 M736.6,894.1 L736.6,889.1 M736.6,494.3 L736.6,499.3 M798.4,894.1 L798.4,889.1 M798.4,494.3 L798.4,499.3 M181.7,422.4 L186.2,422.4 M858.5,422.4 L854.0,422.4 M181.7,384.1 L187.7,384.1 M858.5,384.1 L852.5,384.1 M181.7,345.8 L186.2,345.8 M858.5,345.8 L854.0,345.8 M181.7,307.4 L187.7,307.4 M858.5,307.4 L852.5,307.4 M181.7,269.1 L186.2,269.1 M858.5,269.1 L854.0,269.1 M181.7,230.8 L187.7,230.8 M858.5,230.8 L852.5,230.8 M181.7,192.5 L186.2,192.5 M858.5,192.5 L854.0,192.5 M181.7,154.1 L187.7,154.1 M858.5,154.1 L852.5,154.1 M181.7,115.8 L186.2,115.8 M858.5,115.8 L854.0,115.8 M181.7,77.5 L187.7,77.5 M858.5,77.5 L852.5,77.5 M181.7,815.2 L188.2,815.2 M181.7,734.5 L188.2,734.5 M181.7,653.9 L188.2,653.9 M181.7,573.2 L188.2,573.2 M858.5,851.0 L855.0,851.0 M858.5,806.2 L851.0,806.2 M858.5,761.4 L855.0,761.4 M858.5,716.6 L851.0,716.6 M858.5,671.8 L855.0,671.8 M858.5,627.0 L851.0,627.0 M858.5,582.2 L855.0,582.2 M858.5,537.4 L851.0,537.4" stroke="#000" stroke-width="3" fill="none"/>
<text transform="matrix(0.9675,0,0,1.0600,123.23,468.30)" font-size="30" stroke="#000" stroke-width="0.35" fill="#000">0,0</text>
<text transform="matrix(0.9675,0,0,1.0600,123.23,390.78)" font-size="30" stroke="#000" stroke-width="0.35" fill="#000">0,2</text>
<text transform="matrix(0.9675,0,0,1.0600,123.23,313.26)" font-size="30" stroke="#000" stroke-width="0.35" fill="#000">0,4</text>
<text transform="matrix(0.9675,0,0,1.0600,123.23,235.74)" font-size="30" stroke="#000" stroke-width="0.35" fill="#000">0,6</text>
<text transform="matrix(0.9650,0,0,1.0600,122.94,158.22)" font-size="30" stroke="#000" stroke-width="0.35" fill="#000">0.8</text>
<text transform="matrix(0.9590,0,0,1.0600,123.78,80.70)" font-size="30" stroke="#000" stroke-width="0.35" fill="#000">1,0</text>
<text transform="matrix(0.9561,0,0,1.0550,104.34,898.40)" font-size="30" stroke="#000" stroke-width="0.35" fill="#000">-0,25</text>
<text transform="matrix(0.9526,0,0,1.0550,114.05,820.30)" font-size="30" stroke="#000" stroke-width="0.35" fill="#000">0,00</text>
<text transform="matrix(0.9696,0,0,1.0550,114.03,741.70)" font-size="30" stroke="#000" stroke-width="0.35" fill="#000">0,25</text>
<text transform="matrix(0.9526,0,0,1.0550,114.05,663.10)" font-size="30" stroke="#000" stroke-width="0.35" fill="#000">0,50</text>
<text transform="matrix(0.9750,0,0,1.0550,113.83,583.50)" font-size="30" stroke="#000" stroke-width="0.35" fill="#000">0.75</text>
<text transform="matrix(0.9393,0,0,1.0550,114.72,504.90)" font-size="30" stroke="#000" stroke-width="0.35" fill="#000">1.00</text>
<text transform="matrix(0.9733,0,0,1.0600,172.83,924.60)" font-size="30" stroke="#000" stroke-width="0.35" fill="#000">2</text>
<text transform="matrix(0.8812,0,0,1.0600,293.60,924.60)" font-size="30" stroke="#000" stroke-width="0.35" fill="#000">4</text>
<text transform="matrix(0.9800,0,0,1.0600,419.22,924.60)" font-size="30" stroke="#000" stroke-width="0.35" fill="#000">6</text>
<text transform="matrix(1.0067,0,0,1.0600,544.89,924.60)" font-size="30" stroke="#000" stroke-width="0.35" fill="#000">8</text>
<text transform="matrix(0.9387,0,0,1.0600,660.12,924.60)" font-size="30" stroke="#000" stroke-width="0.35" fill="#000">10</text>
<text transform="matrix(0.9800,0,0,1.0600,784.04,924.60)" font-size="30" stroke="#000" stroke-width="0.35" fill="#000">12</text>
<text transform="matrix(0.9981,0,0,0.9650,7.45,35.44)" font-size="40" stroke="#000" stroke-width="0.8" fill="#000">A</text>
<text transform="matrix(1.0409,0,0,0.9667,7.78,528.73)" font-size="40" stroke="#000" stroke-width="0.8" fill="#000">B</text>
<text transform="rotate(-90) matrix(1.0045,0,0,1.0259,-293.80,90.50)" font-size="39" stroke="#000" stroke-width="0.3" fill="#000">T</text>
<text transform="rotate(-90) matrix(0.9081,0,0,1.0028,-744.51,88.68)" font-size="38" stroke="#000" stroke-width="0.5" fill="#000">ΔT/T (%)</text>
<text transform="matrix(1.0862,0,0,1.0056,461.39,959.26)" font-size="38" fill="#000"><tspan font-family="Liberation Serif" font-style="italic" font-weight="bold">λ</tspan>(<tspan font-family="Liberation Serif" font-style="italic" font-weight="bold">μ</tspan>m)</text>
<text transform="matrix(1.0684,0,0,0.9750,506.06,546.52)" font-size="27" letter-spacing="-1.6" fill="#0a4ae6" stroke="#0a4ae6" stroke-width="0.45">no GMR ML; 5<tspan font-family="Liberation Serif" font-style="italic">μ</tspan>m</text>
<text transform="matrix(1.0609,0,0,0.9850,507.74,579.51)" font-size="27" letter-spacing="-1.6" stroke="#000" stroke-width="0.45" fill="#000">GMR ML; 5<tspan font-family="Liberation Serif" font-style="italic">μ</tspan>m</text>
<text transform="matrix(1.0609,0,0,1.0000,507.74,614.00)" font-size="27" letter-spacing="-1.6" fill="#e00a0a" stroke="#e00a0a" stroke-width="0.45">GMR ML; 7<tspan font-family="Liberation Serif" font-style="italic">μ</tspan>m</text>
<text transform="matrix(0.9241,0,0,0.9857,361.05,223.71)" font-size="18" font-weight="bold" stroke="#fff" stroke-width="0.4" fill="#fff">10 μ m</text>
</svg></body></html>
